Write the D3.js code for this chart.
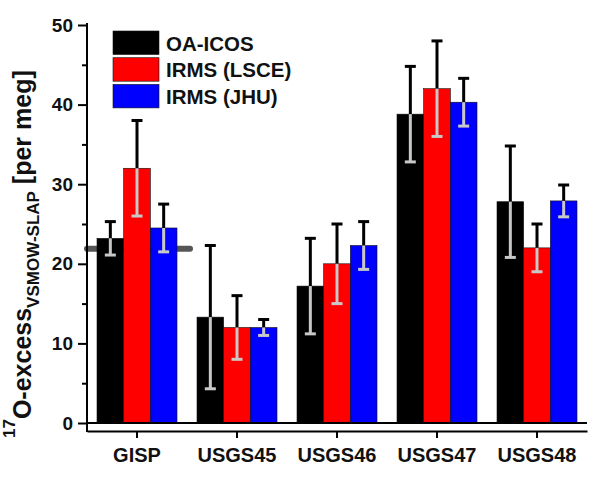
<!DOCTYPE html>
<html>
<head>
<meta charset="utf-8">
<script src="https://cdn.jsdelivr.net/npm/d3@7"></script>
<style>
  html, body { margin: 0; padding: 0; background: #fff; }
  svg { display: block; font-family: "Liberation Sans", Arial, sans-serif; }
</style>
</head>
<body>
<svg id="chart" width="600" height="479"></svg>
<script>
// ---- data ----
const categories = ["GISP", "USGS45", "USGS46", "USGS47", "USGS48"];
const seriesNames = ["OA-ICOS", "IRMS (LSCE)", "IRMS (JHU)"];
const oaIcos      = [23.2, 13.3, 17.2, 38.8, 27.8];
const oaIcosErr   = [2.1, 9.0, 6.0, 6.0, 7.0];
const irmsLsce    = [32.0, 12.0, 20.0, 42.0, 22.0];
const irmsLsceErr = [6.0, 4.0, 5.0, 6.0, 3.0];
const irmsJhu     = [24.5, 12.0, 22.3, 40.3, 27.9];
const irmsJhuErr  = [3.0, 1.0, 3.0, 3.0, 2.0];
const yTicks = [0, 10, 20, 30, 40, 50];
const yMinorTicks = [5, 15, 25, 35, 45];
const gispReference = 21.9;

const colors = ["#000000", "#ff0000", "#0000ff"];
const values = [oaIcos, irmsLsce, irmsJhu];
const errors = [oaIcosErr, irmsLsceErr, irmsJhuErr];

const svg = d3.select("#chart");

const x = d3.scaleBand().domain(categories).range([87, 587]).paddingInner(0.2).paddingOuter(0.1);
const xs = d3.scaleBand().domain(seriesNames).range([0, x.bandwidth()]);
const y = d3.scaleLinear().domain([0, 50]).range([423, 25]);
const axisY = 431;

// reference value line behind GISP
svg.append("line")
  .attr("x1", x("GISP") - 10).attr("x2", x("GISP") + x.bandwidth() + 13)
  .attr("y1", y(gispReference)).attr("y2", y(gispReference))
  .attr("stroke", "#555").attr("stroke-width", 6).attr("stroke-linecap", "round");

// bars
const rows = [];
categories.forEach((c, i) => {
  seriesNames.forEach((s, j) => {
    rows.push({ cat: c, ser: s, j, v: values[j][i], e: errors[j][i] });
  });
});

svg.append("g").selectAll("rect").data(rows).join("rect")
  .attr("x", d => x(d.cat) + xs(d.ser))
  .attr("y", d => y(d.v))
  .attr("width", xs.bandwidth())
  .attr("height", d => y(0) - y(d.v))
  .attr("fill", d => colors[d.j])
  .attr("stroke", "#111").attr("stroke-width", 0.6);

// error bars
const eb = svg.append("g");
const capW = 11;
rows.forEach(d => {
  const cx = x(d.cat) + xs(d.ser) + xs.bandwidth() / 2;
  // upper (black)
  eb.append("line").attr("x1", cx).attr("x2", cx)
    .attr("y1", y(d.v)).attr("y2", y(d.v + d.e))
    .attr("stroke", "#000").attr("stroke-width", 3);
  eb.append("line").attr("x1", cx - capW / 2).attr("x2", cx + capW / 2)
    .attr("y1", y(d.v + d.e)).attr("y2", y(d.v + d.e))
    .attr("stroke", "#000").attr("stroke-width", 3);
  // lower (grey)
  eb.append("line").attr("x1", cx).attr("x2", cx)
    .attr("y1", y(d.v)).attr("y2", y(d.v - d.e))
    .attr("stroke", "#c8c8c8").attr("stroke-width", 3);
  eb.append("line").attr("x1", cx - capW / 2).attr("x2", cx + capW / 2)
    .attr("y1", y(d.v - d.e)).attr("y2", y(d.v - d.e))
    .attr("stroke", "#c8c8c8").attr("stroke-width", 3);
});

// zero line
svg.append("line").attr("x1", 87).attr("x2", 587)
  .attr("y1", y(0)).attr("y2", y(0))
  .attr("stroke", "#000").attr("stroke-width", 2);

// y axis
const gy = svg.append("g").attr("transform", "translate(87,0)")
  .call(d3.axisLeft(y).tickValues(yTicks).tickSize(9).tickPadding(5));
gy.select(".domain").remove();
gy.selectAll(".tick line").attr("stroke-width", 2);
gy.selectAll(".tick text").attr("font-size", 19).attr("font-weight", "bold")
  .attr("font-family", "Liberation Sans, Arial, sans-serif").attr("fill", "#111");
const gyMinor = svg.append("g").attr("transform", "translate(87,0)")
  .call(d3.axisLeft(y).tickValues(yMinorTicks).tickSize(5).tickFormat(""));
gyMinor.select(".domain").remove();
gyMinor.selectAll(".tick line").attr("stroke-width", 2);
svg.append("line").attr("x1", 87).attr("x2", 87)
  .attr("y1", y(50) - 2).attr("y2", axisY + 1)
  .attr("stroke", "#000").attr("stroke-width", 2);

// x axis
const gx = svg.append("g").attr("transform", `translate(0,${axisY})`)
  .call(d3.axisBottom(x).tickSize(7).tickSizeOuter(0));
gx.select(".domain").attr("stroke-width", 2);
gx.selectAll(".tick line").attr("stroke-width", 2);
gx.selectAll(".tick text").attr("font-size", 20).attr("font-weight", "bold")
  .attr("font-family", "Liberation Sans, Arial, sans-serif").attr("fill", "#111")
  .attr("y", 31).attr("dy", 0);

// y title
const yt = svg.append("text")
  .attr("transform", "translate(31,438) rotate(-90)")
  .attr("font-weight", "bold").attr("fill", "#111");
yt.append("tspan").attr("font-size", 17).attr("dy", -16).text("17");
yt.append("tspan").attr("font-size", 25).attr("dy", 16).text("O-excess");
yt.append("tspan").attr("font-size", 17).attr("dy", 8).text("VSMOW-SLAP");
yt.append("tspan").attr("font-size", 25).attr("dy", -8).text(" [per meg]");

// legend
const lg = svg.append("g");
seriesNames.forEach((s, j) => {
  const top = 31 + j * 26.7;
  lg.append("rect").attr("x", 113).attr("y", top).attr("width", 46).attr("height", 23.5)
    .attr("fill", colors[j]).attr("stroke", "#111").attr("stroke-width", 0.6);
  lg.append("text").attr("x", 166).attr("y", top + 19.5)
    .attr("font-size", 20.5).attr("font-weight", "bold").attr("fill", "#111").text(s);
});
</script>
</body>
</html>
